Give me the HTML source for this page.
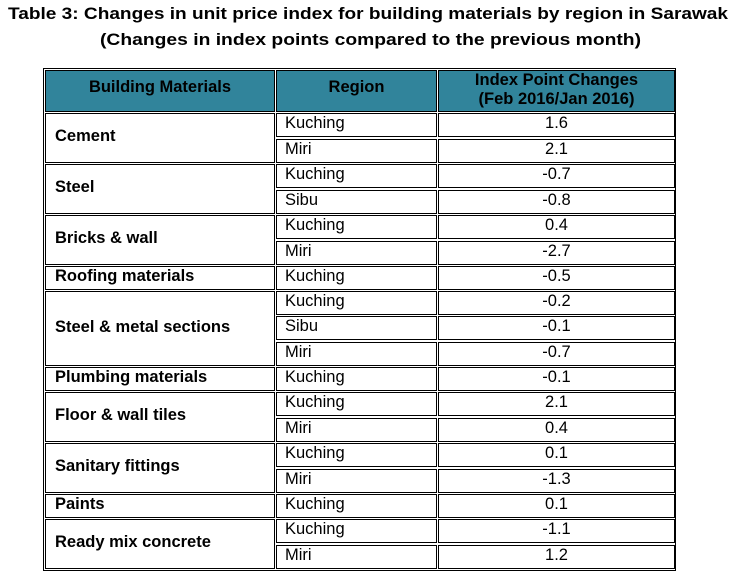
<!DOCTYPE html>
<html><head><meta charset="utf-8"><style>
body{margin:0;width:736px;height:581px;background:#fff;position:relative;font-family:"Liberation Sans",Arial,sans-serif;overflow:hidden}
.c{position:absolute;box-sizing:border-box;border:1px solid #000;display:flex;align-items:center;font-size:16.5px;color:#000}
.m{left:45px;width:230px;font-weight:bold;padding-left:9px;padding-bottom:3px}
.r{left:276px;width:161px;padding-left:8px;padding-bottom:3px}
.v{left:438px;width:237px;justify-content:center;padding-bottom:3px}
.h{background:#31849b;font-weight:bold;justify-content:center;text-align:center;line-height:19px;padding-bottom:8px}
</style></head><body>
<svg style="position:absolute;left:0;top:0" width="736" height="60">
<text x="8" y="19" font-family="Liberation Sans,Arial,sans-serif" font-weight="bold" font-size="17" textLength="720" lengthAdjust="spacingAndGlyphs">Table 3: Changes in unit price index for building materials by region in Sarawak</text>
<text x="100" y="45" font-family="Liberation Sans,Arial,sans-serif" font-weight="bold" font-size="17" textLength="541" lengthAdjust="spacingAndGlyphs">(Changes in index points compared to the previous month)</text>
</svg>
<div style="position:absolute;left:43px;top:68px;width:633px;height:503px;border:1px solid #000;box-sizing:border-box"></div>
<div class="c h m" style="top:70px;height:42px;padding-left:0;padding-bottom:8px">Building Materials</div>
<div class="c h r" style="top:70px;height:42px;padding-left:0;padding-bottom:8px">Region</div>
<div class="c h v" style="top:70px;height:42px;padding-bottom:2px">Index Point Changes<br>(Feb 2016/Jan 2016)</div>

<div class="c m" style="top:113px;height:50px">Cement</div>
<div class="c m" style="top:164px;height:50px">Steel</div>
<div class="c m" style="top:215px;height:50px">Bricks &amp; wall</div>
<div class="c m" style="top:266px;height:24px">Roofing materials</div>
<div class="c m" style="top:291px;height:75px">Steel &amp; metal sections</div>
<div class="c m" style="top:367px;height:24px">Plumbing materials</div>
<div class="c m" style="top:392px;height:50px">Floor &amp; wall tiles</div>
<div class="c m" style="top:443px;height:50px">Sanitary fittings</div>
<div class="c m" style="top:494px;height:24px">Paints</div>
<div class="c m" style="top:519px;height:50px">Ready mix concrete</div>

<div class="c r" style="top:113px;height:24px">Kuching</div><div class="c v" style="top:113px;height:24px">1.6</div>
<div class="c r" style="top:139px;height:24px">Miri</div><div class="c v" style="top:139px;height:24px">2.1</div>
<div class="c r" style="top:164px;height:24px">Kuching</div><div class="c v" style="top:164px;height:24px">-0.7</div>
<div class="c r" style="top:190px;height:24px">Sibu</div><div class="c v" style="top:190px;height:24px">-0.8</div>
<div class="c r" style="top:215px;height:24px">Kuching</div><div class="c v" style="top:215px;height:24px">0.4</div>
<div class="c r" style="top:241px;height:24px">Miri</div><div class="c v" style="top:241px;height:24px">-2.7</div>
<div class="c r" style="top:266px;height:24px">Kuching</div><div class="c v" style="top:266px;height:24px">-0.5</div>
<div class="c r" style="top:291px;height:24px">Kuching</div><div class="c v" style="top:291px;height:24px">-0.2</div>
<div class="c r" style="top:316px;height:24px">Sibu</div><div class="c v" style="top:316px;height:24px">-0.1</div>
<div class="c r" style="top:342px;height:24px">Miri</div><div class="c v" style="top:342px;height:24px">-0.7</div>
<div class="c r" style="top:367px;height:24px">Kuching</div><div class="c v" style="top:367px;height:24px">-0.1</div>
<div class="c r" style="top:392px;height:24px">Kuching</div><div class="c v" style="top:392px;height:24px">2.1</div>
<div class="c r" style="top:418px;height:24px">Miri</div><div class="c v" style="top:418px;height:24px">0.4</div>
<div class="c r" style="top:443px;height:24px">Kuching</div><div class="c v" style="top:443px;height:24px">0.1</div>
<div class="c r" style="top:469px;height:24px">Miri</div><div class="c v" style="top:469px;height:24px">-1.3</div>
<div class="c r" style="top:494px;height:24px">Kuching</div><div class="c v" style="top:494px;height:24px">0.1</div>
<div class="c r" style="top:519px;height:24px">Kuching</div><div class="c v" style="top:519px;height:24px">-1.1</div>
<div class="c r" style="top:545px;height:24px">Miri</div><div class="c v" style="top:545px;height:24px">1.2</div>
</body></html>
